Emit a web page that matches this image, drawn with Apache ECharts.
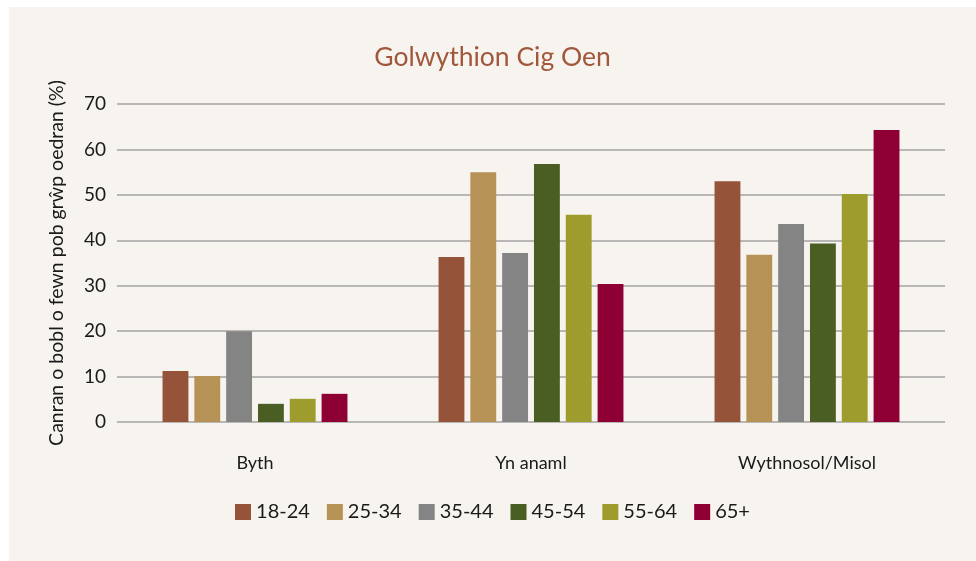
<!DOCTYPE html>
<html>
<head>
<meta charset="utf-8">
<script src="https://cdn.jsdelivr.net/npm/echarts@6/dist/echarts.min.js"></script>
<style>
  html, body { margin: 0; padding: 0; background: #ffffff; }
  #panel { position: absolute; left: 9px; top: 7px; width: 967px; height: 554px; background: #f7f4ef; }
  #chart { width: 967px; height: 554px; }
</style>
</head>
<body>
<div id="panel"><div id="chart"></div></div>
<script>
// data
var categories = ['Byth', 'Yn anaml', 'Wythnosol/Misol'];
var ageGroups = ['18-24', '25-34', '35-44', '45-54', '55-64', '65+'];
var vals1824 = [11.2, 36.3, 53.0];
var vals2534 = [10.1, 55.0, 36.8];
var vals3544 = [20.0, 37.2, 43.6];
var vals4554 = [4.0, 56.8, 39.3];
var vals5564 = [5.1, 45.6, 50.2];
var vals65 = [6.2, 30.4, 64.3];
var colours = ['#955339', '#b79257', '#848484', '#4a5e23', '#9e9c2c', '#8e0034'];

var allVals = [vals1824, vals2534, vals3544, vals4554, vals5564, vals65];
var series = [];
for (var i = 0; i < ageGroups.length; i++) {
    series.push({
        name: ageGroups[i],
        type: 'bar',
        data: allVals[i],
        barGap: '23%',
        barCategoryGap: '33%',
        itemStyle: { color: colours[i] }
    });
}

var chart = echarts.init(document.getElementById('chart'));
var font = 'Lato, "Noto Sans", sans-serif';
chart.setOption({
    animation: false,
    textStyle: { fontFamily: font },
    title: {
        text: 'Golwythion Cig Oen',
        left: 'center',
        top: 32,
        textStyle: { color: '#a0573b', fontSize: 26.5, fontWeight: 'normal', fontFamily: font }
    },
    color: colours,
    legend: {
        bottom: 34,
        left: 'center',
        itemWidth: 16,
        itemHeight: 16,
        itemGap: 17,
        icon: 'rect',
        textStyle: { fontSize: 20, color: '#1a1a1a', fontFamily: font },
        data: ageGroups
    },
    grid: { left: 108, right: 31, top: 97, bottom: 139 },
    xAxis: {
        type: 'category',
        data: categories,
        axisLine: { show: false },
        axisTick: { show: false },
        axisLabel: { fontSize: 18, color: '#1a1a1a', margin: 32, fontFamily: font }
    },
    yAxis: {
        type: 'value',
        min: 0,
        max: 70,
        interval: 10,
        name: 'Canran o bobl o fewn pob grŵp oedran (%)',
        nameLocation: 'middle',
        nameGap: 50,
        nameTextStyle: { fontSize: 19.5, color: '#1a1a1a', fontFamily: font },
        axisLabel: { fontSize: 19, color: '#1a1a1a', margin: 11, fontFamily: font },
        axisLine: { show: false },
        axisTick: { show: false },
        splitLine: { lineStyle: { color: '#a3a3a3', width: 1.5 } }
    },
    series: series
});
</script>
</body>
</html>
